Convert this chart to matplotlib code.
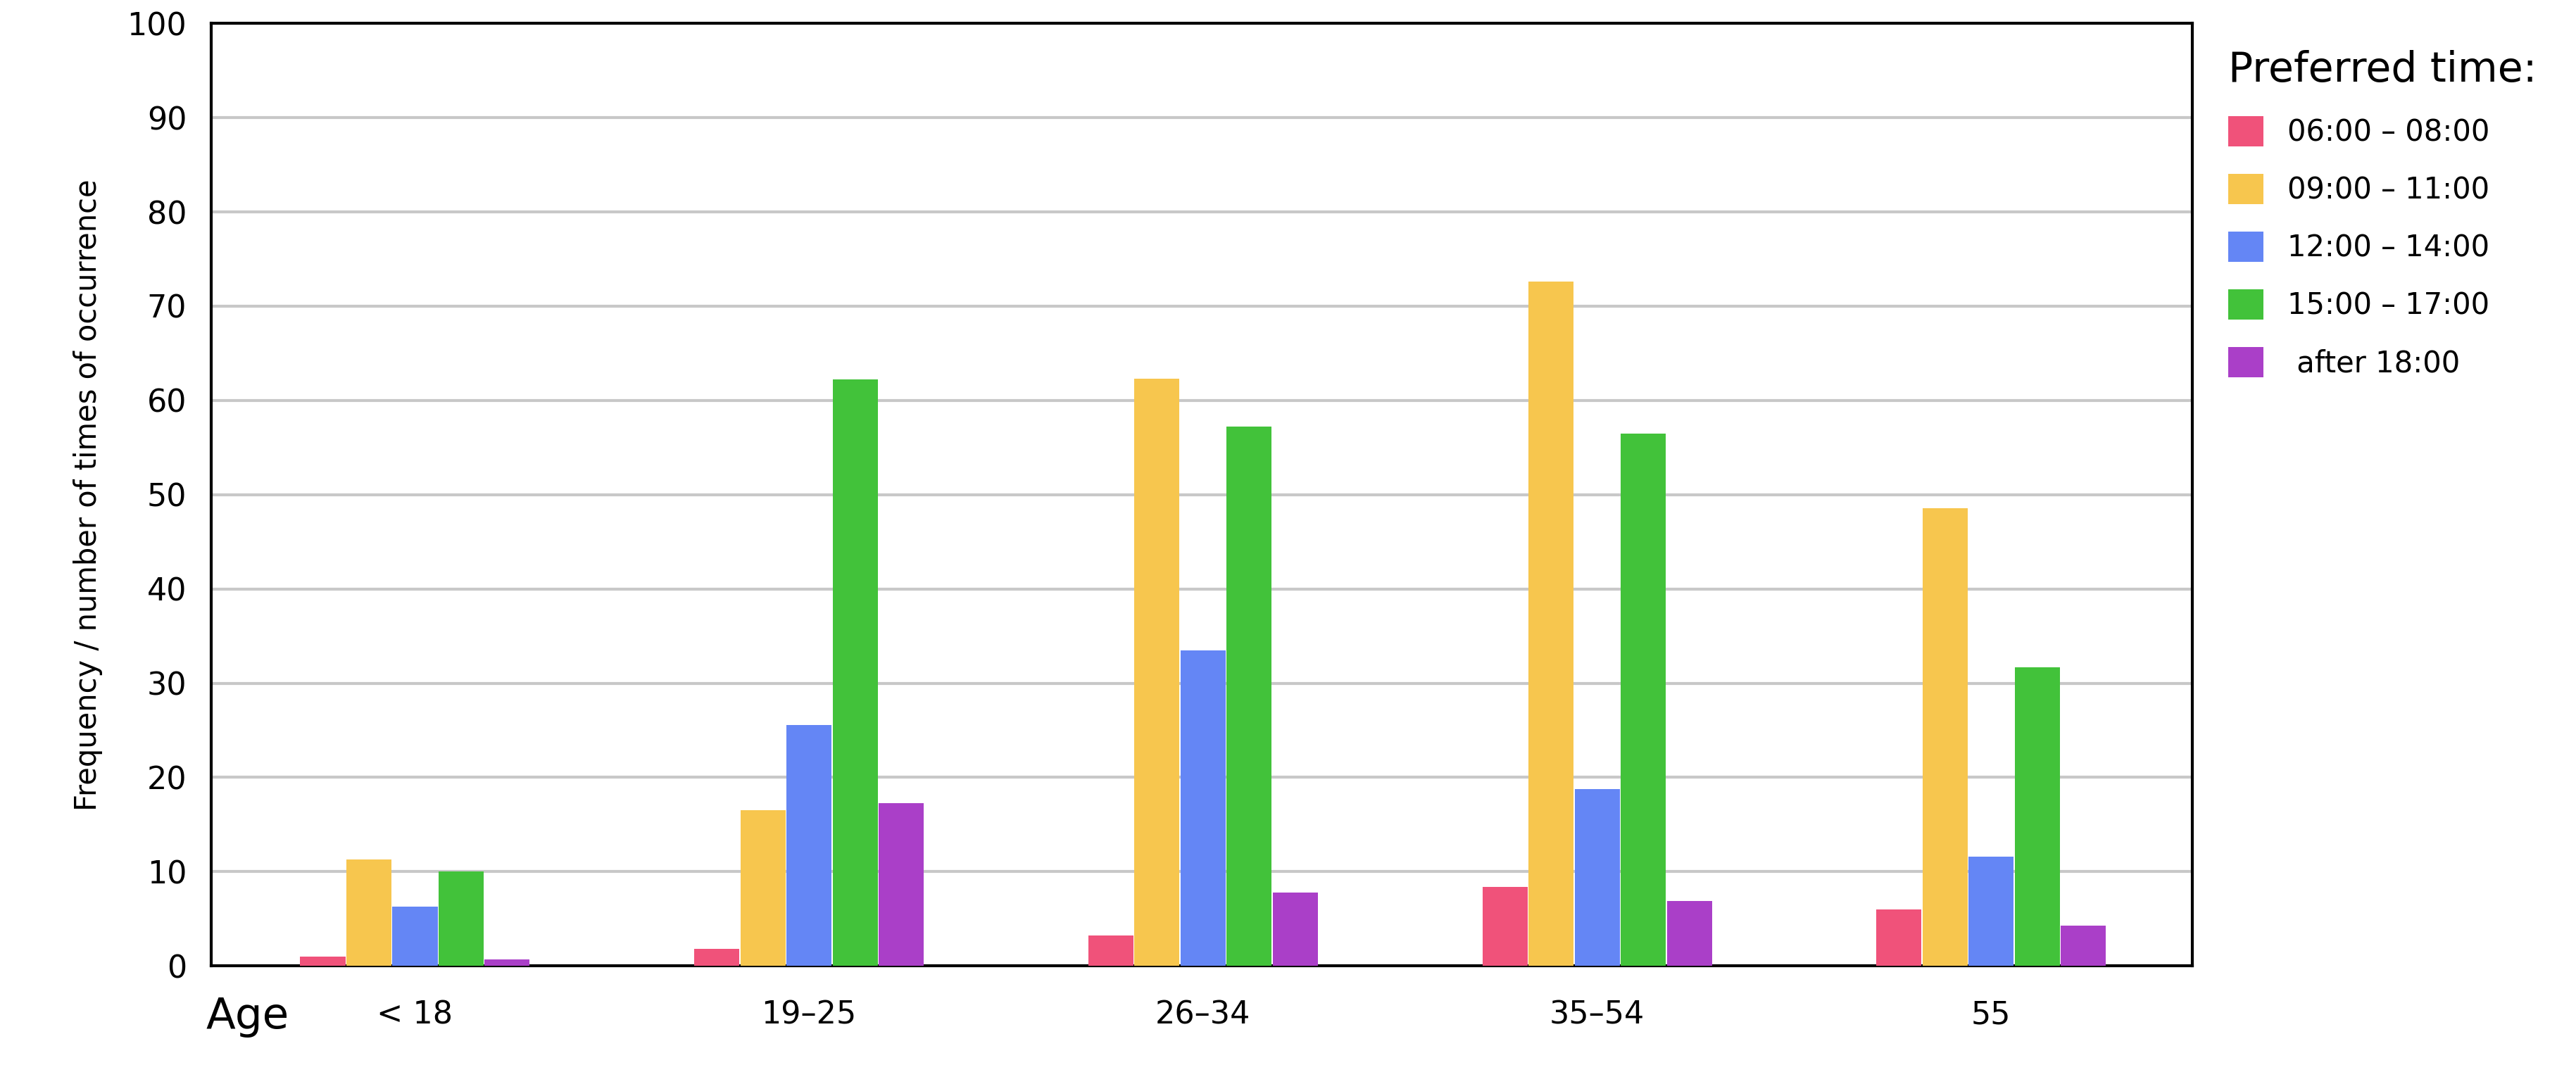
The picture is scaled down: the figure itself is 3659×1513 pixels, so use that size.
import numpy as np
import matplotlib.pyplot as plt

ages = ['< 18', '19\u201325', '26\u201334', '35\u201354', '55']
series_names = ['06:00 \u2013 08:00', '09:00 \u2013 11:00', '12:00 \u2013 14:00', '15:00 \u2013 17:00', ' after 18:00']
early = [1.0, 1.8, 3.2, 8.4, 6.0]
morning = [11.3, 16.5, 62.3, 72.6, 48.6]
noon = [6.3, 25.6, 33.5, 18.8, 11.6]
afternoon = [10.0, 62.2, 57.2, 56.5, 31.7]
evening = [0.7, 17.3, 7.8, 6.9, 4.3]
colors = ['#F0527A', '#F7C64E', '#6486F5', '#42C23A', '#AA3FC8']

fig = plt.figure(figsize=(36.59, 15.13), dpi=100)
ax = fig.add_axes([0.082, 0.093, 0.769, 0.885])

x = np.arange(len(ages))
w = 0.117
for k, vals in enumerate([early, morning, noon, afternoon, evening]):
    ax.bar(x + (k - 2) * w, vals, width=w * 0.98, color=colors[k], label=series_names[k], zorder=3)

ax.set_xlim(-0.517, 4.51)
ax.set_ylim(0, 100)
ax.set_yticks(range(0, 101, 10))
ax.yaxis.grid(True, color='#c8c8c8', linewidth=3, zorder=0)
ax.tick_params(axis='y', labelsize=32, length=0, pad=25)
ax.set_xticks(x)
ax.set_xticklabels(ages, fontsize=32)
ax.tick_params(axis='x', length=0, pad=35)
for s in ax.spines.values():
    s.set_linewidth(3)
ax.set_ylabel('Frequency / number of times of occurrence', fontsize=30, labelpad=25)
fig.text(0.080, 0.045, 'Age', fontsize=44, ha='left', va='center')

leg = ax.legend(loc='upper left', bbox_to_anchor=(1.005, 1.0), frameon=False, fontsize=30,
                title='Preferred time:', title_fontsize=42, handlelength=1.2, handleheight=1.2,
                labelspacing=0.9)
leg._legend_box.align = 'left'

fig.savefig('out.png', dpi=100)
